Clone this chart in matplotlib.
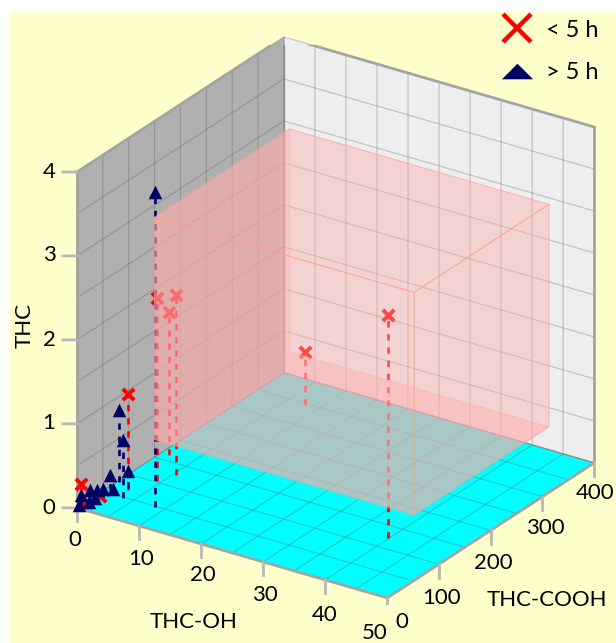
import matplotlib
matplotlib.use("Agg")
import matplotlib.pyplot as plt
from matplotlib.lines import Line2D
from matplotlib.patches import Rectangle
from mpl_toolkits.mplot3d.art3d import Poly3DCollection

plt.rcParams['font.family'] = ['Lato', 'DejaVu Sans']

# puntos: THC-OH, THC-COOH, THC
red_x = [39.8, 7.8, 4.3, 1.2, 5.4, 2.6, 0.3, 1.0, 0.85]
red_y = [124, 347, 103, 163, 127, 67, 5, 5, 34]
red_z = [2.65, 0.63, 2.18, 1.70, 2.14, 1.14, 0.27, 0.07, 0.02]

blue_x = [8.5, 0.3, 3.4, 2.3, 0.6, 0.6, 0.9, 1.2, 0.1, 0.1, 0.5, 0.9, 0.6]
blue_y = [48.5, 78, 48, 71, 57, 18, 28, 36, 7, 2, 17, 58, 28]
blue_z = [3.75, 0.86, 0.69, 0.20, 0.17, 0.15, 0.12, 0.11, 0.13, 0.03, 0.01, 0.01, 0.02]

# caja rosa
box_x = (-3, 38.8)
box_y = (186, 447)
box_z = (0, 2.65)

x_labels = [0, 10, 20, 30, 40, 50]
y_labels = [0, 100, 200, 300, 400]
z_labels = [0, 1, 2, 3, 4]

# donde van los numeros, en pixeles de la imagen
x_label_pos = [(75, 540), (141, 559), (203, 575), (265, 595), (325, 615), (375, 633)]
y_label_pos = [(402, 622), (442, 598), (493, 563), (545, 528), (595, 493)]
z_label_pos = [(49, 508), (49, 423), (49, 340), (49, 255), (49, 172)]

W, H = 616, 643
EDGE = '#a3a3a3'

fig = plt.figure(figsize=(W / 100, H / 100), dpi=100, facecolor='white')
fig.add_artist(Rectangle((10 / W, 0), (W - 10) / W, (H - 12) / H, transform=fig.transFigure,
                         facecolor='#ffffcc', edgecolor='none', zorder=-1))

ax = fig.add_axes([48 / W, (H - 605) / H, 560 / W, 560 / H], projection='3d', computed_zorder=False)
ax.set_facecolor('none')
ax.set_proj_type('ortho')
ax.view_init(elev=25.8, azim=-56.3)
ax.set_box_aspect((1, 1, 1), zoom=1.12)

# paredes
ax.xaxis.set_pane_color('#b0b0b0')
ax.yaxis.set_pane_color('#eeeeee')
ax.zaxis.set_pane_color('#00ffff')
for axis in (ax.xaxis, ax.yaxis, ax.zaxis):
    axis.pane.set_edgecolor('none')
    axis.line.set_color((0, 0, 0, 0))
    axis._axinfo['tick']['inward_factor'] = 0
    axis._axinfo['tick']['outward_factor'] = 0
    axis._axinfo['grid'].update(color=(0.35, 0.35, 0.35, 0.3), linewidth=0.85)

ax.set_xticks(range(0, 51, 5))
ax.set_yticks(range(0, 401, 50))
ax.set_zticks([0, 0.5, 1, 1.5, 2, 2.5, 3, 3.5, 4])
ax.set_xticklabels([])
ax.set_yticklabels([])
ax.set_zticklabels([])
ax.grid(True)

# bordes del cubo
borde = [([0, 50], [0, 0], [0, 0]), ([50, 50], [0, 400], [0, 0]),
         ([0, 0], [0, 0], [0, 4]), ([0, 0], [0, 400], [4, 4]),
         ([0, 50], [400, 400], [4, 4]), ([50, 50], [400, 400], [0, 4])]
for bx, by, bz in borde:
    ax.plot(bx, by, bz, color=EDGE, lw=2, zorder=1, solid_capstyle='projecting')
ax.plot([0, 0], [400, 400], [0, 4], color='#8f8f8f', lw=1, zorder=1)
ax.plot([0, 50], [400, 400], [0, 0], color='#8f8f8f', lw=0.8, zorder=1)

# marcas de los ejes
for v in x_labels:
    ax.plot([v, v], [0, 0], [0, -0.16], color='#b8b8b8', lw=2, zorder=1)
for v in y_labels[1:]:
    ax.plot([50, 50], [v, v], [0, -0.16], color='#b8b8b8', lw=2, zorder=1)
for v in z_labels:
    ax.plot([0, -1.56], [0, -8.3], [v, v], color='#b8b8b8', lw=2, zorder=1)

# numeros de los ejes
for labels, positions in ((x_labels, x_label_pos), (y_labels, y_label_pos), (z_labels, z_label_pos)):
    for v, (px, py) in zip(labels, positions):
        fig.text(px / W, 1 - py / H, str(v), fontsize=16, ha='center', va='center', color='black')

# lineas punteadas y marcadores
for x, y, z in zip(red_x, red_y, red_z):
    ax.plot([x, x], [y, y], [0, z], color='#ff0000', lw=1.9, ls=(0, (2.4, 2.6)), zorder=3)
for x, y, z in zip(blue_x, blue_y, blue_z):
    ax.plot([x, x], [y, y], [0, z], color='#000066', lw=1.9, ls=(0, (2.4, 2.6)), zorder=3)
ax.scatter(red_x, red_y, red_z, marker='x', s=66, color='#ff0000', linewidths=2.8, depthshade=False, zorder=4)
ax.scatter(blue_x, blue_y, blue_z, marker='^', s=95, color='#000066', linewidths=0, depthshade=False, zorder=5)

# caja translucida encima de todo
x0, x1 = box_x
y0, y1 = box_y
z0, z1 = box_z
faces = [
    [(x0, y0, z0), (x1, y0, z0), (x1, y1, z0), (x0, y1, z0)],
    [(x0, y0, z1), (x1, y0, z1), (x1, y1, z1), (x0, y1, z1)],
    [(x0, y0, z0), (x0, y1, z0), (x0, y1, z1), (x0, y0, z1)],
    [(x1, y0, z0), (x1, y1, z0), (x1, y1, z1), (x1, y0, z1)],
    [(x0, y0, z0), (x1, y0, z0), (x1, y0, z1), (x0, y0, z1)],
    [(x0, y1, z0), (x1, y1, z0), (x1, y1, z1), (x0, y1, z1)],
]
pink = (1, 0.68, 0.68)
face_alpha = [0.57, 0.23, 0.5, 0.23, 0.23, 0.23]
edge_alpha = [0.15, 0.6, 0.15, 0.6, 0.6, 0.15]
box = Poly3DCollection(faces, facecolors=[pink + (a,) for a in face_alpha],
                       edgecolors=[(1, 0.62, 0.55, a) for a in edge_alpha], linewidths=0.7, zorder=6)
ax.add_collection3d(box, autolim=False)

ax.set_xlim(0, 50, view_margin=0)
ax.set_ylim(0, 400, view_margin=0)
ax.set_zlim(0, 4, view_margin=0)

# titulos de los ejes
fig.text(194 / W, 1 - 622 / H, 'THC-OH', fontsize=16, ha='center', va='center')
fig.text(547 / W, 1 - 600 / H, 'THC-COOH', fontsize=16, ha='center', va='center')
fig.text(25 / W, 1 - 325 / H, 'THC', fontsize=16, ha='center', va='center', rotation=90)

# leyenda
tri = [(-1, -0.5), (1, -0.5), (0, 0.5)]
handles = [
    Line2D([], [], ls='none', marker='x', ms=20, mew=3.2, color='#ff0000'),
    Line2D([], [], ls='none', marker=tri, ms=22.5, mew=0, color='#000066'),
]
fig.legend(handles, ['< 5 h', '> 5 h'], loc='upper right', bbox_to_anchor=(0.998, 0.995), frameon=False,
           fontsize=17, labelspacing=0.9, handletextpad=0.2, borderaxespad=0.3)

fig.savefig('out.png', dpi=100)
